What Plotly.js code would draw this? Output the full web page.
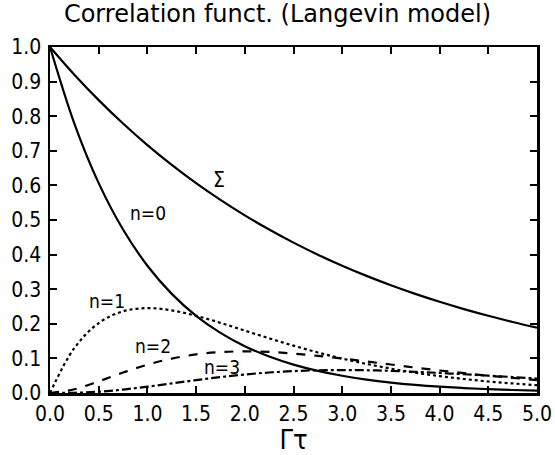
<!DOCTYPE html>
<html><head><meta charset="utf-8">
<script src="https://cdn.plot.ly/plotly-3.0.1.min.js"></script>
<style>html,body{margin:0;padding:0;background:#fff}#chart{width:555px;height:455px}</style>
</head><body><div id="chart"></div>
<script>
const gammaTau = [0,0.25,0.5,0.75,1.0,1.25,1.5,1.75,2.0,2.25,2.5,2.75,3.0,3.25,3.5,3.75,4.0,4.25,4.5,4.75,5.0];
const sumCorr = [1,0.9200,0.8465,0.7788,0.7165,0.6592,0.6065,0.5580,0.5134,0.4724,0.4346,0.3998,0.3679,0.3385,0.3114,0.2865,0.2636,0.2425,0.2231,0.2053,0.1889];
const n0 = [1,0.7788,0.6065,0.4724,0.3679,0.2865,0.2231,0.1738,0.1353,0.1054,0.0821,0.0639,0.0498,0.0388,0.0302,0.0235,0.0183,0.0143,0.0111,0.0087,0.0067];
const n1 = [0,0.1298,0.2022,0.2362,0.2453,0.2388,0.2231,0.2028,0.1804,0.1581,0.1368,0.1172,0.0996,0.0841,0.0705,0.0588,0.0488,0.0405,0.0333,0.0276,0.0225];
const n2 = [0,0.0108,0.0337,0.0591,0.0818,0.0995,0.1116,0.1183,0.1203,0.1186,0.1140,0.1074,0.0996,0.0911,0.0823,0.0735,0.0651,0.0574,0.0500,0.0437,0.0375];
const n3 = [0,0.0006,0.0037,0.0099,0.0182,0.0276,0.0372,0.0460,0.0535,0.0593,0.0633,0.0656,0.0664,0.0658,0.0640,0.0613,0.0579,0.0542,0.0500,0.0461,0.0417];
const curveLabels = ["Σ","n=0","n=1","n=2","n=3"];
const labelX = [1.74,1.01,0.59,1.06,1.77];
const labelY = [0.617,0.52,0.266,0.136,0.075];
const labelSize = [21,19,19,19,19];

const FONT = "DejaVu Sans Condensed, DejaVu Sans, sans-serif";
const TFONT = "DejaVu Sans, sans-serif";
function tr(y, dash){return {x:gammaTau,y:y,type:'scatter',mode:'lines',line:{color:'#000',width:2.2,dash:dash,shape:'spline'},hoverinfo:'skip',showlegend:false};}
const data = [tr(sumCorr,'solid'),tr(n0,'solid'),tr(n1,'dot'),tr(n2,'dash'),tr(n3,'dashdot')];
const annotations = curveLabels.map((t,i)=>({x:labelX[i],y:labelY[i],text:t,showarrow:false,font:{family:FONT,size:labelSize[i],color:'#000'}}));
const axisCommon = {showline:true,linewidth:2.5,linecolor:'#000',mirror:'ticks',ticks:'inside',ticklen:7,tickwidth:2,tickcolor:'#000',showgrid:false,zeroline:false,tickfont:{family:FONT,size:21,color:'#000'}};
const layout = {
  width:555,height:455,paper_bgcolor:'#fff',plot_bgcolor:'#fff',
  margin:{l:50,r:18,t:47,b:62},
  title:{text:'Correlation funct. (Langevin model)',font:{family:TFONT,size:24,color:'#000'},x:0.5,xanchor:'center',y:0.988,yanchor:'top'},
  xaxis:Object.assign({},axisCommon,{range:[0,5],tickvals:[0,0.5,1,1.5,2,2.5,3,3.5,4,4.5,5],ticktext:['0.0','0.5','1.0','1.5','2.0','2.5','3.0','3.5','4.0','4.5','5.0'],title:{text:'Γτ',font:{family:FONT,size:27,color:'#000'},standoff:0}}),
  yaxis:Object.assign({},axisCommon,{range:[0,1],ticklabelstandoff:2,tickvals:[0,0.1,0.2,0.3,0.4,0.5,0.6,0.7,0.8,0.9,1.0],ticktext:['0.0','0.1','0.2','0.3','0.4','0.5','0.6','0.7','0.8','0.9','1.0']}),
  annotations:annotations
};
Plotly.newPlot('chart',data,layout,{staticPlot:true,displayModeBar:false});
</script></body></html>
